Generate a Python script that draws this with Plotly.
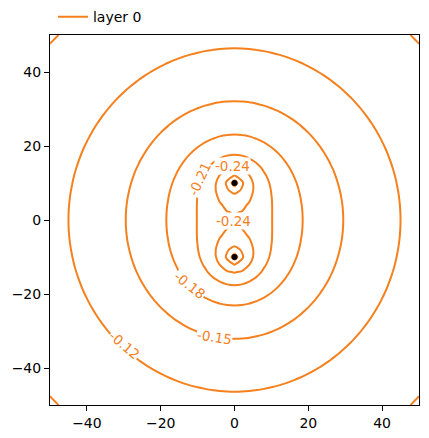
import numpy as np
import plotly.graph_objects as go

# --- model parameters (read / estimated from the chart) ---
source_x = [0.0, 0.0]          # point-like sources (black dots)
source_y = [10.0, -10.0]
source_mass = [1.0, 1.0]
source_scale = [6.0, 6.0]
halo_mass = 5.25               # broad background component
halo_scale = 46.0
level_start, level_end, level_step = -0.33, -0.09, 0.03
tick_vals = [-40, -20, 0, 20, 40]
series_name = "layer 0"

label_text = ["-0.12", "-0.15", "-0.18", "-0.21", "-0.24", "-0.24"]
label_x = [-29.8, -5.4, -12.2, -9.5, -0.5, -0.2]
label_y = [-33.8, -31.5, -17.7, 11.1, 14.7, -0.4]
label_angle = [40, 9, 38, -65, 0, 0]

# --- field on a grid ---
xs = np.linspace(-50, 50, 51)
ys = np.linspace(-50, 50, 51)
X, Y = np.meshgrid(xs, ys)
Z = -halo_mass / np.sqrt(X**2 + Y**2 + halo_scale**2)
for sx, sy, sm, ss in zip(source_x, source_y, source_mass, source_scale):
    Z = Z - sm / (np.hypot(X - sx, Y - sy) + ss)

C = "#f5801e"
FONT = "DejaVu Sans"
fig = go.Figure()
fig.add_trace(go.Contour(
    x=xs, y=ys, z=Z,
    contours=dict(start=level_start, end=level_end, size=level_step, coloring="lines"),
    line=dict(width=2, smoothing=0.6), colorscale=[[0, C], [1, C]],
    showscale=False, showlegend=False, hoverinfo="skip"))
fig.add_trace(go.Scatter(x=source_x, y=source_y, mode="markers",
    marker=dict(color="black", size=6), showlegend=False, hoverinfo="skip"))
fig.add_trace(go.Scatter(x=[None], y=[None], mode="lines",
    line=dict(color=C, width=2), name=series_name))

for t, lx, ly, ang in zip(label_text, label_x, label_y, label_angle):
    fig.add_annotation(x=lx, y=ly, text=t, textangle=ang, showarrow=False,
        font=dict(family=FONT, size=13.5, color=C), bgcolor="white", borderpad=0)

ax = dict(range=[-50, 50], tickvals=tick_vals, ticks="outside", ticklen=5, tickwidth=1,
          tickcolor="black", showline=True, linecolor="black", linewidth=1, mirror=True,
          showgrid=False, zeroline=False,
          tickfont=dict(family=FONT, size=14, color="black"))
fig.update_layout(
    width=429, height=438,
    margin=dict(l=50, r=10, t=35, b=33, autoexpand=False),
    plot_bgcolor="white", paper_bgcolor="white",
    xaxis=ax, yaxis=ax, showlegend=True,
    legend=dict(orientation="h", x=0.008, y=1.005, xanchor="left", yanchor="bottom",
                bgcolor="rgba(0,0,0,0)",
                font=dict(family=FONT, size=14, color="black")))
fig.write_html("out.html")
